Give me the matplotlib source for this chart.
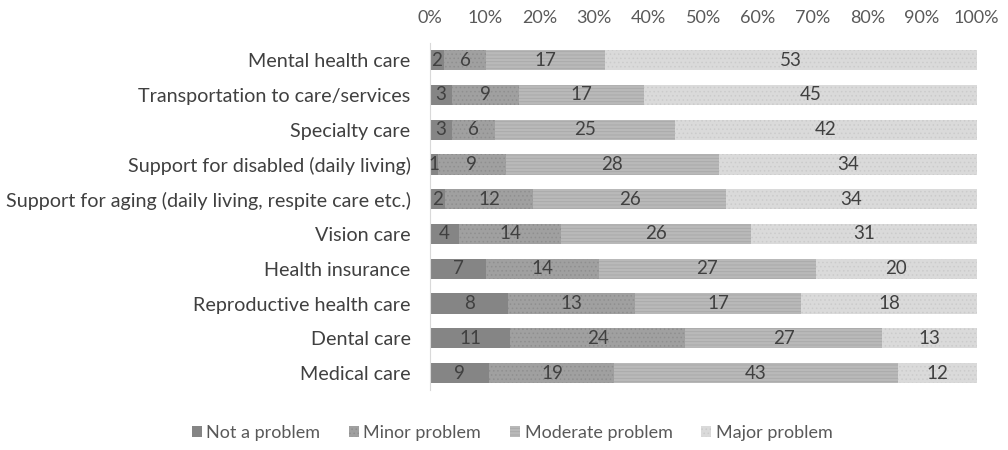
import numpy as np
import matplotlib.pyplot as plt
from matplotlib.patches import Patch

plt.rcParams['font.family'] = ['Lato', 'DejaVu Sans']
plt.rcParams['hatch.linewidth'] = 0.6

categories = [
    'Mental health care',
    'Transportation to care/services',
    'Specialty care',
    'Support for disabled (daily living)',
    'Support for aging (daily living, respite care etc.)',
    'Vision care',
    'Health insurance',
    'Reproductive health care',
    'Dental care',
    'Medical care',
]
series_names = ['Not a problem', 'Minor problem', 'Moderate problem', 'Major problem']
not_a_problem = [2, 3, 3, 1, 2, 4, 7, 8, 11, 9]
minor_problem = [6, 9, 6, 9, 12, 14, 14, 13, 24, 19]
moderate_problem = [17, 17, 25, 28, 26, 26, 27, 17, 27, 43]
major_problem = [53, 45, 42, 34, 34, 31, 20, 18, 13, 12]
tick_labels = ['0%', '10%', '20%', '30%', '40%', '50%', '60%', '70%', '80%', '90%', '100%']

colors = ['#858585', '#a0a0a0', '#b9b9b9', '#dadada']
hatch_colors = ['#7a7a7a', '#8f8f8f', '#a8a8a8', '#cbcbcb']
hatches = [None, '....', '-----', '....']
text_color = '#404040'

values = np.array([not_a_problem, minor_problem, moderate_problem, major_problem], dtype=float)
totals = values.sum(axis=0)
shares = values / totals * 100

fig = plt.figure(figsize=(10.08, 4.5), dpi=100)
ax = fig.add_axes([0.4266, 0.1324, 0.5424, 0.7726])

y = np.arange(len(categories))
left = np.zeros(len(categories))
for i, name in enumerate(series_names):
    ax.barh(y, shares[i], left=left, height=0.58, color=colors[i],
            edgecolor=hatch_colors[i], linewidth=0, hatch=hatches[i], label=name)
    for j in range(len(categories)):
        ax.text(left[j] + shares[i][j] / 2, y[j], f'{int(values[i][j])}',
                ha='center', va='center', fontsize=13.5, color=text_color)
    left += shares[i]

ax.set_xlim(0, 100)
ax.set_ylim(len(categories) - 0.5, -0.5)
ax.set_xticks(np.arange(0, 101, 10))
ax.set_xticklabels(tick_labels)
ax.set_yticks(y)
ax.set_yticklabels(categories)
ax.xaxis.tick_top()
ax.tick_params(axis='x', length=0, pad=12, labelsize=13, labelcolor='#595959')
ax.tick_params(axis='y', length=0, pad=14, labelsize=14.2, labelcolor='#404040')
for side in ['top', 'right', 'bottom']:
    ax.spines[side].set_visible(False)
ax.spines['left'].set_color('#d9d9d9')
ax.spines['left'].set_linewidth(0.8)

handles = [Patch(facecolor=colors[i], edgecolor=hatch_colors[i], linewidth=0,
                 hatch=hatches[i], label=series_names[i]) for i in range(4)]
fig.legend(handles=handles, loc='center', bbox_to_anchor=(0.508, 0.038), ncol=4,
           frameon=False, fontsize=13, handlelength=0.55, handleheight=0.55,
           handletextpad=0.25, columnspacing=1.6, labelcolor='#595959')

fig.savefig('out.png', dpi=100)
